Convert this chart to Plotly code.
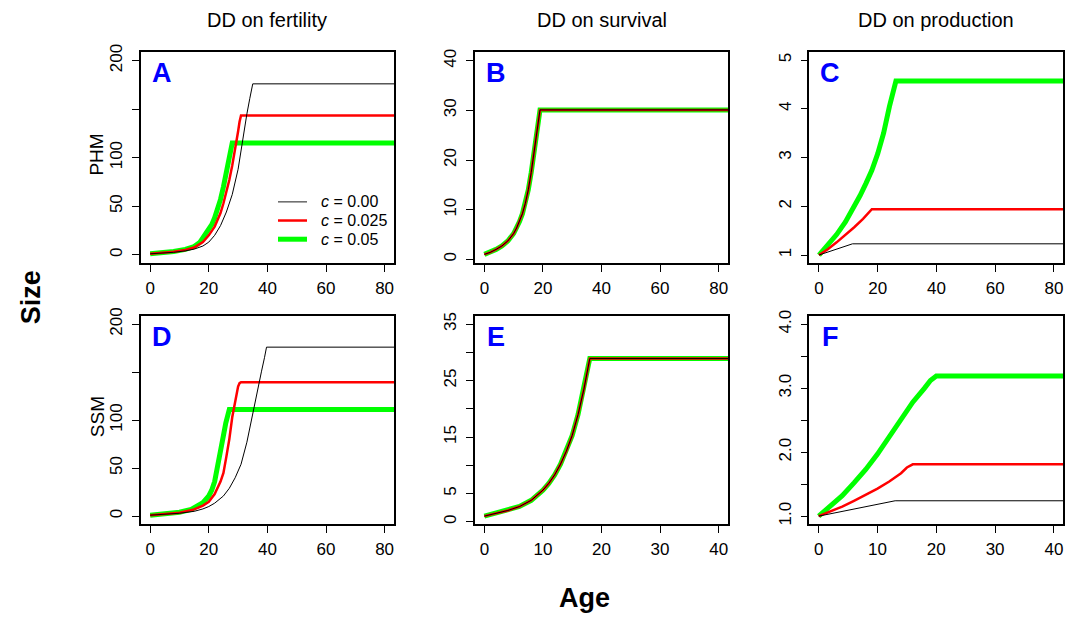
import plotly.graph_objects as go

# ---------------- data ----------------
# Panel A (PHM, DD on fertility)
ageA_c0 = [0, 4, 8, 12, 15, 18, 20, 22, 24, 26, 28, 30, 31, 32, 33, 34, 35, 100]
sizeA_c0 = [1, 1.6, 2.5, 4, 5.8, 9, 13, 20, 30, 44, 62, 88, 108, 127, 145, 161, 176, 176]
ageA_c025 = [0, 4, 8, 12, 15, 18, 20, 22, 24, 25, 26, 27, 28, 29, 29.5, 30, 30.5, 31, 100]
sizeA_c025 = [1, 1.7, 3, 5, 7.5, 13, 20, 29, 43, 53, 64, 77, 92, 108, 117, 127, 137, 143.5, 143.5]
ageA_c05 = [0, 4, 8, 12, 15, 17, 19, 21, 22, 23, 24, 25, 26, 27, 27.5, 28, 100]
sizeA_c05 = [1, 1.8, 3.3, 5.5, 8.5, 13, 21, 31, 38, 47, 57, 70, 85, 102, 111, 115, 115]

# Panel B (PHM, DD on survival) - all three scenarios coincide
ageB = [0, 2, 4, 6, 8, 10, 11, 12, 13, 14, 15, 16, 17, 18, 19, 100]
sizeB = [1, 1.4, 2, 2.7, 3.7, 5.2, 6.3, 7.6, 9.2, 11.3, 14, 17.5, 21.5, 26, 30.1, 30.1]

# Panel C (PHM, DD on production)
ageC_c0 = [0, 6, 11.4, 100]
sizeC_c0 = [1, 1.12, 1.23, 1.23]
ageC_c025 = [0, 3, 6, 9, 12, 15, 17, 18, 100]
sizeC_c025 = [1, 1.12, 1.26, 1.41, 1.57, 1.74, 1.87, 1.94, 1.94]
ageC_c05 = [0, 3, 6, 9, 12, 14, 16, 18, 20, 22, 24, 25, 25.7, 26.2, 100]
sizeC_c05 = [1, 1.2, 1.42, 1.68, 1.98, 2.22, 2.47, 2.74, 3.08, 3.5, 4.05, 4.33, 4.5, 4.57, 4.57]

# Panel D (SSM, DD on fertility)
ageD_c0 = [0, 5, 10, 15, 18, 20, 22, 25, 27, 29, 31, 33, 35, 36, 37, 38, 39, 39.7, 100]
sizeD_c0 = [1, 1.8, 3, 5, 7.5, 10, 13.5, 21, 29, 40, 54, 77, 108, 122, 137, 151, 165, 176, 176]
ageD_c025 = [0, 5, 10, 15, 18, 20, 22, 24, 25, 26, 27, 28, 29, 29.5, 30, 30.5, 31, 100]
sizeD_c025 = [1, 2, 3.5, 7, 11, 15, 23, 36, 45, 62, 80, 103, 120, 128, 135, 138.5, 139.5, 139.5]
ageD_c05 = [0, 5, 10, 14, 16, 18, 20, 21, 22, 23, 24, 25, 25.8, 26.3, 26.7, 27, 100]
sizeD_c05 = [1, 2, 4, 7, 10, 14, 21, 27, 36, 50, 66, 84, 97, 105, 109, 111, 111]

# Panel E (SSM, DD on survival) - all three scenarios coincide
ageE = [0, 2, 4, 6, 8, 10, 11, 12, 13, 14, 15, 16, 17, 18, 50]
sizeE = [1, 1.5, 2, 2.7, 3.8, 5.6, 6.8, 8.3, 10.2, 12.5, 15.3, 19, 23.5, 28.9, 28.9]

# Panel F (SSM, DD on production)
ageF_c0 = [0, 6, 13, 50]
sizeF_c0 = [1, 1.11, 1.24, 1.24]
ageF_c025 = [0, 2, 4, 6, 8, 10, 12, 14, 15, 16, 50]
sizeF_c025 = [1, 1.07, 1.15, 1.24, 1.33, 1.43, 1.54, 1.67, 1.76, 1.81, 1.81]
ageF_c05 = [0, 2, 4, 6, 8, 10, 12, 14, 16, 18, 19, 20, 50]
sizeF_c05 = [1, 1.15, 1.32, 1.52, 1.73, 1.97, 2.23, 2.5, 2.78, 3.0, 3.12, 3.19, 3.19]

col_titles = ["DD on fertility", "DD on survival", "DD on production"]
row_titles = ["PHM", "SSM"]
panel_letters = ["A", "B", "C", "D", "E", "F"]
legend_names = ["<i>c</i> = 0.00", "<i>c</i> = 0.025", "<i>c</i> = 0.05"]

yticks = {
    1: ([0, 50, 100, 150, 200], ["0", "50", "100", "", "200"]),
    2: ([0, 10, 20, 30, 40], ["0", "10", "20", "30", "40"]),
    3: ([1, 2, 3, 4, 5], ["1", "2", "3", "4", "5"]),
    4: ([0, 50, 100, 150, 200], ["0", "50", "100", "", "200"]),
    5: ([0, 5, 10, 15, 20, 25, 30, 35], ["0", "5", "", "15", "", "25", "", "35"]),
    6: ([1.0, 1.5, 2.0, 2.5, 3.0, 3.5, 4.0], ["1.0", "", "2.0", "", "3.0", "", "4.0"]),
}
xticks = {
    1: [0, 20, 40, 60, 80], 2: [0, 20, 40, 60, 80], 3: [0, 20, 40, 60, 80],
    4: [0, 20, 40, 60, 80], 5: [0, 10, 20, 30, 40], 6: [0, 10, 20, 30, 40],
}
yranges = {1: [-8.3, 208.5], 2: [-0.7, 41.7], 3: [0.84, 5.16],
           4: [-8, 208], 5: [-0.36, 36.36], 6: [0.88, 4.12]}
xranges = {1: [-3.3, 83.2], 2: [-3.2, 83.2], 3: [-3.3, 83.2],
           4: [-3.3, 83.2], 5: [-1.6, 41.6], 6: [-1.6, 41.6]}

W, H = 1077, 617
xdom_px = [(140.5, 394), (475, 728), (809.3, 1063.3)]
ydom_px = [(44, 258), (312.5, 523.3)]

GREEN = "#00FF00"
RED = "#FF0000"
BLACK = "#000000"
FONT = "Liberation Sans, Arial, sans-serif"
LINE_W = {"c0": 1, "c025": 2.5, "c05": 5}

fig = go.Figure()

def add_panel(i, series):
    ax = "" if i == 1 else str(i)
    for (xs, ys, color, width) in series:
        fig.add_trace(go.Scatter(
            x=xs, y=ys, mode="lines", showlegend=False,
            line=dict(color=color, width=width),
            xaxis="x" + ax, yaxis="y" + ax, hoverinfo="skip",
        ))

add_panel(1, [(ageA_c05, sizeA_c05, GREEN, LINE_W["c05"]),
              (ageA_c025, sizeA_c025, RED, LINE_W["c025"]),
              (ageA_c0, sizeA_c0, BLACK, LINE_W["c0"])])
add_panel(2, [(ageB, sizeB, GREEN, LINE_W["c05"]),
              (ageB, sizeB, RED, LINE_W["c025"]),
              (ageB, sizeB, BLACK, LINE_W["c0"])])
add_panel(3, [(ageC_c05, sizeC_c05, GREEN, LINE_W["c05"]),
              (ageC_c025, sizeC_c025, RED, LINE_W["c025"]),
              (ageC_c0, sizeC_c0, BLACK, LINE_W["c0"])])
add_panel(4, [(ageD_c05, sizeD_c05, GREEN, LINE_W["c05"]),
              (ageD_c025, sizeD_c025, RED, LINE_W["c025"]),
              (ageD_c0, sizeD_c0, BLACK, LINE_W["c0"])])
add_panel(5, [(ageE, sizeE, GREEN, LINE_W["c05"]),
              (ageE, sizeE, RED, LINE_W["c025"]),
              (ageE, sizeE, BLACK, LINE_W["c0"])])
add_panel(6, [(ageF_c05, sizeF_c05, GREEN, LINE_W["c05"]),
              (ageF_c025, sizeF_c025, RED, LINE_W["c025"]),
              (ageF_c0, sizeF_c0, BLACK, LINE_W["c0"])])

layout = dict(
    width=W, height=H, margin=dict(l=0, r=0, t=0, b=0),
    paper_bgcolor="white", plot_bgcolor="white",
    font=dict(family=FONT, size=17, color="black"),
    showlegend=False,
)

annotations = []
shapes = []
for i in range(1, 7):
    r = (i - 1) // 3
    c = (i - 1) % 3
    ax = "" if i == 1 else str(i)
    x0, x1 = xdom_px[c]
    y0, y1 = ydom_px[r]
    axis_common = dict(showline=True, linecolor="black", linewidth=1.6, mirror=True,
                       ticks="outside", ticklen=7, tickwidth=1.2, tickcolor="black",
                       showgrid=False, zeroline=False,
                       tickfont=dict(size=17, family=FONT))
    layout["xaxis" + ax] = dict(
        domain=[x0 / W, x1 / W], anchor="y" + ax, range=xranges[i],
        tickmode="array", tickvals=xticks[i], ticktext=[str(v) for v in xticks[i]],
        ticklabelstandoff=2, **axis_common)
    tv, tt = yticks[i]
    layout["yaxis" + ax] = dict(
        domain=[1 - y1 / H, 1 - y0 / H], anchor="x" + ax, range=yranges[i],
        tickmode="array", tickvals=tv, ticktext=tt, tickangle=-90,
        ticklabelstandoff=3, **axis_common)
    annotations.append(dict(
        text="<b>" + panel_letters[i - 1] + "</b>", x=(x0 + 21) / W, y=1 - (y0 + 21) / H,
        xref="paper", yref="paper", xanchor="center", yanchor="middle",
        showarrow=False, font=dict(size=27, color="#0000FF", family=FONT)))

# legend drawn inside panel A
leg_colors = ["#666666", RED, GREEN]
leg_widths = [1.5, LINE_W["c025"], LINE_W["c05"]]
leg_y_px = [196, 215, 234]
for k in range(3):
    yk = 1 - leg_y_px[k] / H
    shapes.append(dict(type="line", xref="paper", yref="paper",
                       x0=278 / W, x1=307 / W, y0=yk, y1=yk,
                       line=dict(color=leg_colors[k], width=leg_widths[k])))
    annotations.append(dict(text=legend_names[k], x=319 / W, y=yk, xref="paper", yref="paper",
                            xanchor="left", yanchor="middle", showarrow=False,
                            font=dict(size=16)))

for c in range(3):
    x0, x1 = xdom_px[c]
    annotations.append(dict(
        text=col_titles[c], x=(x0 + x1) / 2 / W, y=1 - 11 / H, xref="paper", yref="paper",
        xanchor="center", yanchor="middle", showarrow=False, font=dict(size=20)))

for r in range(2):
    y0, y1 = ydom_px[r]
    annotations.append(dict(
        text=row_titles[r], x=97 / W, y=1 - ((y0 + y1) / 2 - 3) / H, xref="paper", yref="paper",
        xanchor="center", yanchor="middle", showarrow=False, textangle=-90,
        font=dict(size=19)))

annotations.append(dict(
    text="<b>Size</b>", x=31 / W, y=1 - 293 / H, xref="paper", yref="paper",
    xanchor="center", yanchor="middle", showarrow=False, textangle=-90,
    font=dict(size=27)))
annotations.append(dict(
    text="<b>Age</b>", x=584 / W, y=1 - 599 / H, xref="paper", yref="paper",
    xanchor="center", yanchor="middle", showarrow=False,
    font=dict(size=27)))

layout["annotations"] = annotations
layout["shapes"] = shapes
fig.update_layout(**layout)
fig.write_html("out.html", config={"displayModeBar": False},
               post_script="document.body.style.margin='0';document.body.style.overflow='hidden';")
